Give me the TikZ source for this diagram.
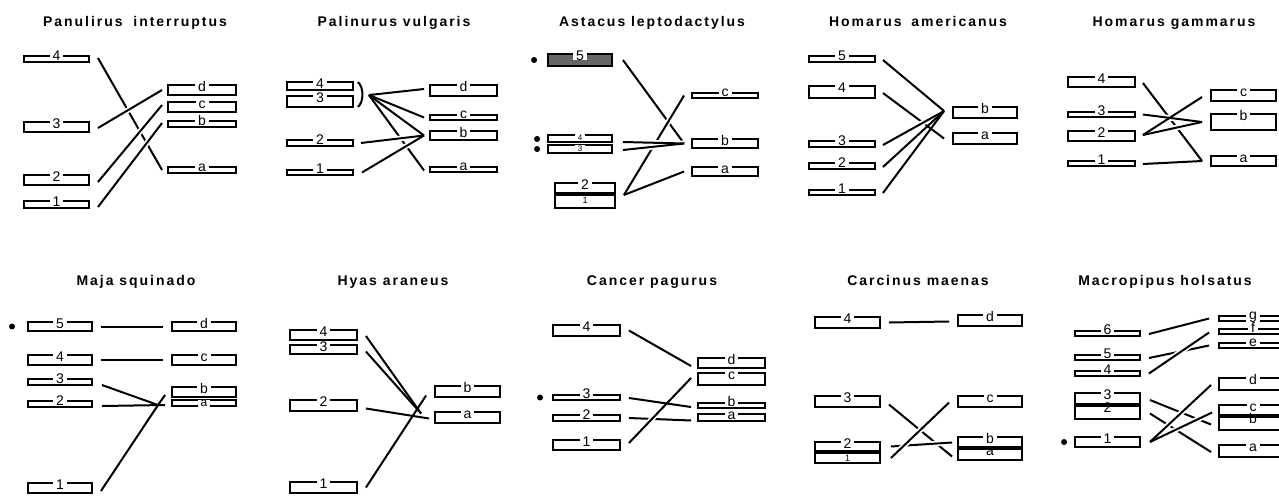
\documentclass[tikz,border=0pt]{standalone}
\usepackage{fontspec}
\setmainfont{Liberation Sans}
\newfontfamily\ttlfont{Liberation Sans}[LetterSpace=14]
\usetikzlibrary{fit,calc}
% [box options]{name}{x1}{x2}{y1}{y2}{label options}{label}
\newcommand\bnd[8][]{%
  \path (#3,#5) coordinate (#2-tl) (#4,#6) coordinate (#2-br);
  \node[bandbox,fit=(#2-tl)(#2-br),#1] (#2) {};
  \pgfmathsetmacro\myLX{(#3+#4)/2}%
  \pgfmathsetmacro\myLY{min(#6-2,#5+6)}%
  \node[bandlab,#7] (#2-l) at (\myLX,\myLY) {#8};
}
\begin{document}
\begin{tikzpicture}[x=1pt,y=-1pt,
  bandbox/.style={draw,line width=1.9pt,inner sep=0pt},
  bandlab/.style={anchor=base,fill=white,inner xsep=3pt,inner ysep=0pt,font=\fontsize{14}{14}\selectfont},
  small/.style={font=\fontsize{8}{8}\selectfont},
  tick/.style={font=\fontsize{9}{9}\selectfont,yshift=-2pt,inner xsep=1pt},
  link/.style={line width=2pt},
  halo/.style={draw=white,line width=5.5pt},
  ttl/.style={anchor=base,font=\ttlfont\bfseries\fontsize{14}{14}\selectfont},
  dot/.style={circle,fill,inner sep=0pt,minimum size=6pt},
  sep/.style={line width=3.2pt}]
\useasboundingbox (0,0) rectangle (1279,498);
\fill[white] (0,0) rectangle (1279,498);

% ---------- titles
\node[ttl] (t1) at (135,26) {Panulirus\hspace{5pt} interruptus};
\node[ttl] (t2) at (394,26) {Palinurus vulgaris};
\node[ttl] (t3) at (652,26) {Astacus leptodactylus};
\node[ttl] (t4) at (918,26) {Homarus\hspace{4pt} americanus};
\node[ttl] (t5) at (1174,26) {Homarus gammarus};
\node[ttl] (t6) at (136,285) {Maja squinado};
\node[ttl] (t7) at (393,285) {Hyas araneus};
\node[ttl] (t8) at (652,285) {Cancer pagurus};
\node[ttl] (t9) at (918,285) {Carcinus maenas};
\node[ttl] (t10) at (1165,285) {Macropipus holsatus};

% ---------- Panel 1: Panulirus interruptus
\bnd{p1b4}{24}{89}{56}{62}{}{4}
\bnd{p1b3}{24}{89}{122}{132}{}{3}
\bnd{p1b2}{24}{89}{175}{185}{}{2}
\bnd{p1b1}{24}{89}{201}{208}{}{1}
\bnd{p1bd}{168}{236}{85}{95}{}{d}
\bnd{p1bc}{168}{236}{102}{112}{}{c}
\bnd{p1bb}{168}{236}{121}{127}{}{b}
\bnd{p1ba}{168}{236}{167}{173}{}{a}
\draw[link] ($(p1b4.east)+(8,-1)$) -- ($(p1ba.west)+(-5,0)$);
\draw[halo] ($(p1b3.east)+(8,1)$) -- ($(p1bd.west)+(-5,0)$);
\draw[halo] ($(p1b2.east)+(8,2)$) -- ($(p1bc.west)+(-5,-2)$);
\draw[halo] ($(p1b1.east)+(8,2.5)$) -- ($(p1bb.west)+(-5,-1)$);
\draw[link] ($(p1b3.east)+(8,1)$) -- ($(p1bd.west)+(-5,0)$);
\draw[link] ($(p1b2.east)+(8,2)$) -- ($(p1bc.west)+(-5,-2)$);
\draw[link] ($(p1b1.east)+(8,2.5)$) -- ($(p1bb.west)+(-5,-1)$);

% ---------- Panel 2: Palinurus vulgaris
\bnd{p2b4}{287}{353}{82}{90}{}{4}
\bnd{p2b3}{287}{353}{96}{107}{}{3}
\bnd{p2b2}{287}{353}{140}{146}{}{2}
\bnd{p2b1}{287}{353}{170}{175}{}{1}
\bnd{p2bd}{430}{497}{85}{96}{}{d}
\bnd{p2bc}{430}{497}{115}{120}{}{c}
\bnd{p2bb}{430}{497}{131}{140}{}{b}
\bnd{p2ba}{430}{497}{167}{172}{}{a}
\draw[link] ($(p2b4.north east)+(4,1)$) .. controls +(6,5) and +(6,-5) .. ($(p2b3.south east)+(4,-1)$);
\coordinate (p2hub) at ($(p2b3.north east)+(15,0)$);
\draw[link] (p2hub) -- ($(p2ba.west)+(-5,1)$);
\draw[halo] ($(p2b2.east)+(7,0)$) -- ($(p2bb.west)+(-5,0)$);
\draw[halo] ($(p2b1.east)+(8,0)$) -- ($(p2bb.west)+(-5,0)$);
\draw[link] ($(p2b2.east)+(7,0)$) -- ($(p2bb.west)+(-5,0)$);
\draw[link] ($(p2b1.east)+(8,0)$) -- ($(p2bb.west)+(-5,0)$);
\draw[link] (p2hub) -- ($(p2bd.west)+(-5,-1.5)$);
\draw[link] (p2hub) -- ($(p2bc.west)+(-5,0)$);
\draw[link] (p2hub) -- ($(p2bb.west)+(-5,0)$);

% ---------- Panel 3: Astacus leptodactylus
\bnd[fill=black!60]{p3b5}{548}{612}{54}{66}{}{5}
\bnd{p3b4}{548}{612}{135}{142}{small}{4}
\bnd{p3b3}{548}{612}{145}{153}{small}{3}
\bnd{p3b2}{555}{615}{183}{194}{}{2}
\bnd{p3b1}{555}{615}{195}{208}{tick}{1}
\draw[sep] (p3b1.north west) -- (p3b1.north east);
\bnd{p3bc}{692}{758}{93}{98}{}{c}
\bnd{p3bb}{692}{758}{139}{148}{}{b}
\bnd{p3ba}{692}{758}{167}{176}{}{a}
\node[dot] (p3d5) at ($(p3b5.west)+(-13,0)$) {};
\node[dot] (p3d4) at ($(p3b4.west)+(-10,0.5)$) {};
\node[dot] (p3d3) at ($(p3b3.west)+(-10,0)$) {};
\coordinate (p3hub) at ($(p3bb.west)+(-7,0)$);
\draw[link] ($(p3b5.east)+(10,0)$) -- (p3hub);
\draw[halo] ($(p3b2.east)+(8,6.5)$) -- ($(p3bc.west)+(-7,0)$);
\draw[link] ($(p3b2.east)+(8,6.5)$) -- ($(p3bc.west)+(-7,0)$);
\draw[halo] ($(p3b4.east)+(10,3.5)$) -- (p3hub);
\draw[halo] ($(p3b3.east)+(10,1)$) -- (p3hub);
\draw[link] ($(p3b4.east)+(10,3.5)$) -- (p3hub);
\draw[link] ($(p3b3.east)+(10,1)$) -- (p3hub);
\draw[link] ($(p3b2.east)+(8,6.5)$) -- ($(p3ba.west)+(-7,0)$);

% ---------- Panel 4: Homarus americanus
\bnd{p4b5}{809}{875}{56}{62}{}{5}
\bnd{p4b4}{809}{875}{86}{98}{}{4}
\bnd{p4b3}{809}{875}{141}{147}{}{3}
\bnd{p4b2}{809}{875}{163}{169}{}{2}
\bnd{p4b1}{809}{875}{190}{195}{}{1}
\bnd{p4bb}{953}{1017}{107}{118}{}{b}
\bnd{p4ba}{953}{1017}{133}{144}{}{a}
\coordinate (p4hub) at ($(p4bb.west)+(-8,-1.5)$);
\draw[link] ($(p4b4.east)+(7,1)$) -- ($(p4ba.west)+(-8,0)$);
\draw[halo] ($(p4b3.east)+(7,1)$) -- (p4hub);
\draw[link] ($(p4b3.east)+(7,1)$) -- (p4hub);
\draw[link] ($(p4b5.east)+(7,1)$) -- (p4hub);
\draw[link] ($(p4b2.east)+(7,1)$) -- (p4hub);
\draw[link] ($(p4b1.east)+(7,0.5)$) -- (p4hub);

% ---------- Panel 5: Homarus gammarus
\bnd{p5b4}{1068}{1135}{77}{87}{}{4}
\bnd{p5b3}{1068}{1135}{112}{117}{}{3}
\bnd{p5b2}{1068}{1135}{131}{141}{}{2}
\bnd{p5b1}{1068}{1135}{161}{166}{}{1}
\bnd{p5bc}{1211}{1276}{90}{101}{}{c}
\bnd{p5bb}{1211}{1276}{114}{130}{}{b}
\bnd{p5ba}{1211}{1276}{156}{166}{}{a}
\draw[link] ($(p5b4.east)+(7,1)$) -- ($(p5ba.west)+(-8,0)$);
\draw[link] ($(p5b1.east)+(7,0.5)$) -- ($(p5ba.west)+(-8,0)$);
\draw[halo] ($(p5b3.east)+(7,0)$) -- ($(p5bb.west)+(-8,0)$);
\draw[halo] ($(p5b2.east)+(7,-1)$) -- ($(p5bb.west)+(-8,0)$);
\draw[halo] ($(p5b2.east)+(7,-1)$) -- ($(p5bc.west)+(-8,1.5)$);
\draw[link] ($(p5b3.east)+(7,0)$) -- ($(p5bb.west)+(-8,0)$);
\draw[link] ($(p5b2.east)+(7,-1)$) -- ($(p5bb.west)+(-8,0)$);
\draw[link] ($(p5b2.east)+(7,-1)$) -- ($(p5bc.west)+(-8,1.5)$);

% ---------- Panel 6: Maja squinado
\bnd{p6b5}{28}{92}{322}{331}{}{5}
\bnd{p6b4}{28}{92}{355}{365}{}{4}
\bnd{p6b3}{28}{92}{379}{385}{}{3}
\bnd{p6b2}{28}{92}{401}{407}{}{2}
\bnd{p6b1}{28}{92}{483}{493}{}{1}
\bnd{p6bd}{172}{236}{322}{331}{}{d}
\bnd{p6bc}{172}{236}{355}{365}{}{c}
\bnd{p6bb}{172}{236}{387}{397}{}{b}
\bnd{p6ba}{172}{236}{400}{406}{font=\fontsize{12}{12}\selectfont,yshift=-2.5pt}{a}
\node[dot] (p6d5) at ($(p6b5.west)+(-15,0)$) {};
\coordinate (p6hub) at ($(p6ba.west)+(-13,2)$);
\draw[link] ($(p6b5.east)+(8,0)$) -- ($(p6bd.west)+(-8,0)$);
\draw[link] ($(p6b4.east)+(8,0)$) -- ($(p6bc.west)+(-8,0)$);
\draw[link] ($(p6b3.east)+(9,3)$) -- (p6hub);
\draw[link] ($(p6b2.east)+(9,2)$) -- ($(p6ba.west)+(-6,2)$);
\draw[link] ($(p6b1.east)+(8,3)$) -- (p6hub);
\draw[link] (p6hub) -- ($(p6bb.west)+(-6,3)$);

% ---------- Panel 7: Hyas araneus
\bnd{p7b4}{290}{357}{330}{340}{}{4}
\bnd{p7b3}{290}{357}{345}{354}{}{3}
\bnd{p7b2}{290}{357}{400}{411}{}{2}
\bnd{p7b1}{290}{357}{482}{493}{}{1}
\bnd{p7bb}{435}{500}{386}{397}{}{b}
\bnd{p7ba}{435}{500}{412}{423}{}{a}
\draw[link] ($(p7b4.east)+(8,1)$) -- ($(p7ba.west)+(-13,-4)$);
\draw[link] ($(p7b3.east)+(8,2)$) -- ($(p7ba.west)+(-13,-4)$);
\draw[link] ($(p7b2.east)+(8,3)$) -- ($(p7ba.west)+(-5,1)$);
\draw[link] ($(p7b1.east)+(8,0)$) -- ($(p7bb.west)+(-8,4)$);

% ---------- Panel 8: Cancer pagurus
\bnd{p8b4}{553}{620}{325}{336}{}{4}
\bnd{p8b3}{553}{620}{395}{400}{}{3}
\bnd{p8b2}{553}{620}{415}{421}{}{2}
\bnd{p8b1}{553}{620}{440}{450}{}{1}
\bnd{p8bd}{698}{765}{358}{368}{}{d}
\bnd{p8bc}{698}{765}{373}{385}{}{c}
\bnd{p8bb}{698}{765}{403}{408}{}{b}
\bnd{p8ba}{698}{765}{414}{421}{}{a}
\node[dot] (p8d3) at ($(p8b3.west)+(-12,0)$) {};
\draw[link] ($(p8b4.east)+(8,0)$) -- ($(p8bd.west)+(-6,3)$);
\draw[link] ($(p8b2.east)+(8,0)$) -- ($(p8ba.west)+(-6,3)$);
\draw[halo] ($(p8b1.east)+(8,-2)$) -- ($(p8bc.west)+(-6,-1)$);
\draw[link] ($(p8b1.east)+(8,-2)$) -- ($(p8bc.west)+(-6,-1)$);
\draw[link] ($(p8b3.east)+(8,0.5)$) -- ($(p8bb.west)+(-6,1.5)$);

% ---------- Panel 9: Carcinus maenas
\bnd{p9b4}{815}{880}{317}{328}{}{4}
\bnd{p9b3}{815}{880}{396}{407}{}{3}
\bnd{p9b2}{815}{880}{442}{451}{}{2}
\bnd{p9b1}{815}{880}{453}{463}{tick}{1}
\draw[sep] (p9b1.north west) -- (p9b1.north east);
\bnd{p9bd}{958}{1022}{315}{326}{}{d}
\bnd{p9bc}{958}{1022}{396}{407}{}{c}
\bnd{p9bb}{958}{1022}{437}{448}{}{b}
\bnd{p9ba}{958}{1022}{449}{460}{}{a}
\draw[sep] (p9ba.north west) -- (p9ba.north east);
\draw[link] ($(p9b4.east)+(8,0)$) -- ($(p9bd.west)+(-8,1)$);
\draw[link] ($(p9b3.east)+(8,3)$) -- ($(p9ba.west)+(-5,2)$);
\draw[halo] ($(p9b2.east)+(10,0)$) -- ($(p9bb.west)+(-5,0)$);
\draw[link] ($(p9b2.east)+(10,0)$) -- ($(p9bb.west)+(-5,0)$);
\draw[halo] ($(p9b1.east)+(10,0)$) -- ($(p9bc.west)+(-8,1)$);
\draw[link] ($(p9b1.east)+(10,0)$) -- ($(p9bc.west)+(-8,1)$);

% ---------- Panel 10: Macropipus holsatus
\bnd{p10b6}{1075}{1140}{331}{336}{}{6}
\bnd{p10b5}{1075}{1140}{355}{360}{}{5}
\bnd{p10b4}{1075}{1140}{371}{376}{}{4}
\bnd{p10b3}{1075}{1140}{393}{405}{}{3}
\bnd{p10b2}{1075}{1140}{406}{419}{}{2}
\draw[sep] (p10b2.north west) -- (p10b2.north east);
\bnd{p10b1}{1075}{1140}{437}{447}{}{1}
\bnd{p10bg}{1219}{1287}{316}{321}{}{g}
\bnd{p10bf}{1219}{1287}{329}{334}{}{f}
\bnd{p10be}{1219}{1287}{343}{348}{}{e}
\bnd{p10bd}{1219}{1287}{378}{390}{}{d}
\bnd{p10bc}{1219}{1287}{405}{416}{}{c}
\bnd{p10bb}{1219}{1287}{417}{430}{}{b}
\draw[sep] (p10bb.north west) -- (p10bb.north east);
\bnd{p10ba}{1219}{1287}{445}{457}{}{a}
\node[dot] (p10d1) at ($(p10b1.west)+(-10,0)$) {};
\draw[link] ($(p10b6.east)+(8,0.5)$) -- ($(p10bg.west)+(-9,0)$);
\draw[link] ($(p10b5.east)+(8,0.5)$) -- ($(p10be.west)+(-9,0)$);
\draw[halo] ($(p10b4.east)+(8,0)$) -- ($(p10bf.west)+(-9,1)$);
\draw[link] ($(p10b4.east)+(8,0)$) -- ($(p10bf.west)+(-9,1)$);
\draw[link] ($(p10b3.east)+(9,1)$) -- ($(p10bb.west)+(-7,1)$);
\draw[link] ($(p10b2.east)+(9,1)$) -- ($(p10ba.west)+(-7,1)$);
\draw[halo] ($(p10b1.east)+(9,0)$) -- ($(p10bd.west)+(-7,1)$);
\draw[halo] ($(p10b1.east)+(9,0)$) -- ($(p10bc.west)+(-6,2)$);
\draw[link] ($(p10b1.east)+(9,0)$) -- ($(p10bd.west)+(-7,1)$);
\draw[link] ($(p10b1.east)+(9,0)$) -- ($(p10bc.west)+(-6,2)$);
\end{tikzpicture}
\end{document}
